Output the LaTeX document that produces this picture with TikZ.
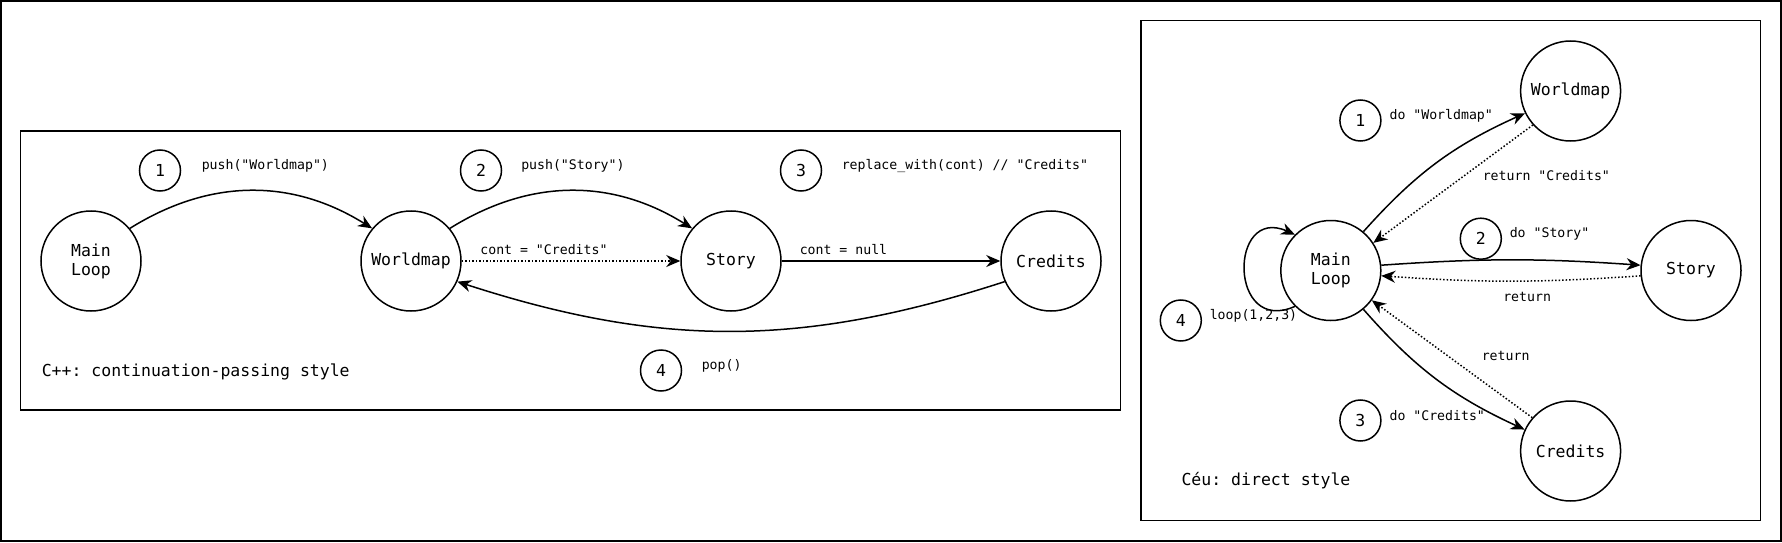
\documentclass[tikz,border=0pt]{standalone}
\usepackage{fontspec}
\setmainfont[Ligatures=TeXOff]{DejaVu Sans Mono}
\frenchspacing
\usetikzlibrary{arrows.meta}
\tikzstyle{scene}=[circle, draw, line width=1.5pt, minimum size=100pt, inner sep=0pt, align=center, font=\fontsize{16.5}{19}\selectfont]
\tikzstyle{stepno}=[circle, draw, line width=1.5pt, minimum size=41pt, inner sep=0pt, font=\fontsize{16.5}{19}\selectfont]
\tikzstyle{call}=[anchor=west, inner sep=0pt, font=\fontsize{13.2}{15}\selectfont]
\tikzstyle{caption}=[anchor=west, inner sep=0pt, font=\fontsize{16.5}{19}\selectfont]

\begin{document}
\begin{tikzpicture}[x=1pt, y=1pt, line width=1.5pt, >={Stealth[length=14pt, width=12pt]}]
                    \useasboundingbox (0,0) rectangle (1782,542);
                    \draw[line width=2pt] (1,1) rectangle (1781,541);
                    % C++ side
                    \draw (20.5,132) rectangle (1120.5,411);
                    \node[scene] (lml) at (91, 281)   {Main\\Loop};
                    \node[scene] (lwm) at (411, 281)  {Worldmap};
                    \node[scene] (lst) at (731, 281)  {Story};
                    \node[scene] (lcr) at (1051, 281) {Credits};
                    \node[stepno] (l1) at (160, 371.5) {1};
                    \node[stepno] (l2) at (481, 371.5) {2};
                    \node[stepno] (l3) at (801, 371.5) {3};
                    \node[stepno] (l4) at (661, 171.5) {4};
                    \node[call] (lpush1) at (201, 376)   {push("Worldmap")};
                    \node[call] (lpush2) at (520.5, 376) {push("Story")};
                    \node[call] (lrepl)  at (841, 376)   {replace\_with(cont) // "Credits"};
                    \node[call] (lpop)   at (701, 176)   {pop()};
                    \node[call] (lcont1) at (479.6, 292) {cont = "Credits"};
                    \node[call] (lcont2) at (799, 292)   {cont = null};
                    \node[caption] (lcap) at (41, 170.4) {C++: continuation-passing style};
                    \draw[->]  (lml.40) to[bend left=32] (lwm.140);
                    \draw[->]  (lwm.40) to[bend left=32] (lst.140);
                    \draw[->, dotted] (lwm) -- (lst);
                    \draw[->]  (lst) -- (lcr);
                    \draw[->]  (lcr.204) to[bend left=18] (lwm.336);
                    % Ceu side
                    \draw (1141,21.5) rectangle (1760.5,521.5);
                    \node[scene] (rml) at (1330.8, 271.5) {Main\\Loop};
                    \node[scene] (rwm) at (1570.6, 451)   {Worldmap};
                    \node[scene] (rst) at (1691, 271.5)   {Story};
                    \node[scene] (rcr) at (1570.6, 91)    {Credits};
                    \node[stepno] (r1) at (1360.4, 421.5) {1};
                    \node[stepno] (r2) at (1480.8, 303.3) {2};
                    \node[stepno] (r3) at (1360.4, 121.5) {3};
                    \node[stepno] (r4) at (1180.8, 221.5) {4};
                    \node[call] (rdo1)  at (1388.8, 426)   {do "Worldmap"};
                    \node[call] (rret1) at (1482, 366)     {return "Credits"};
                    \node[call] (rdo2)  at (1509, 308)     {do "Story"};
                    \node[call] (rret2) at (1502.5, 245.4) {return};
                    \node[call] (rret3) at (1481, 186.3)   {return};
                    \node[call] (rdo3)  at (1388.8, 126)   {do "Credits"};
                    \node[call] (rloop) at (1209, 226)     {loop(1,2,3)};
                    \node[caption] (rcap) at (1180.8, 61.3) {Céu: direct style};
                    \draw[->]  (rml.50) to[bend left=12] (rwm.206);
                    \draw[->, dotted] (rwm.222) -- (rml.33);
                    \draw[->]  (rml.6) to[bend left=4] (rst.174);
                    \draw[->, dotted] (rst.186) to[bend left=4] (rml.354);
                    \draw[->]  (rml.310) to[bend right=12] (rcr.155);
                    \draw[->, dotted] (rcr.139) -- (rml.324);
                    \draw[->]  (rml.225) to[out=204, in=156, looseness=2.6] (rml.135);
                \end{tikzpicture}
\end{document}
